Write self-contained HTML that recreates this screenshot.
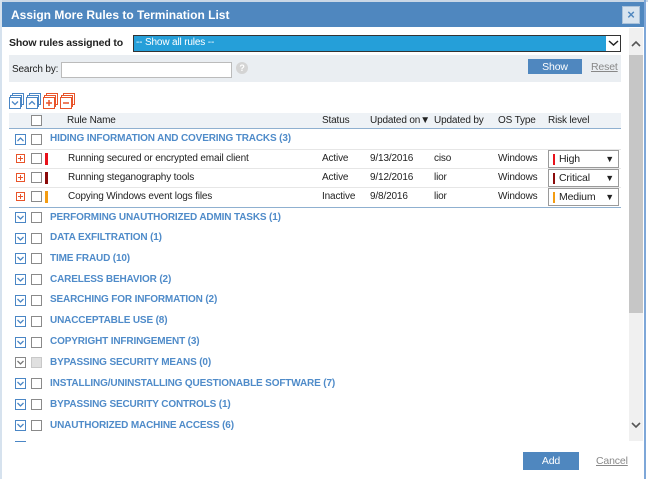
<!DOCTYPE html>
<html><head><meta charset="utf-8">
<style>
*{margin:0;padding:0;box-sizing:border-box}
body{width:648px;height:479px;overflow:hidden;background:#fff;font-family:"Liberation Sans",Arial,sans-serif;font-size:10px;line-height:14px;letter-spacing:-0.15px;color:#222;position:relative}
.a{position:absolute;white-space:nowrap}
.cb{position:absolute;width:11px;height:11px;border:1px solid #8a8a8a;background:#fff}
.ex{position:absolute;width:11px;height:11px;border:1px solid #4a86c5;background:#fff}
.ex svg{position:absolute;left:0px;top:0px}
.grp{position:absolute;left:50px;font-weight:bold;color:#4f8bc9;font-size:10px;letter-spacing:-0.15px;white-space:nowrap}
.pl{position:absolute;left:16px;width:9px;height:9px;border:1px solid #e8542a;background:#fff}
.pl:before{content:"";position:absolute;left:1px;top:3px;width:5px;height:1px;background:#e8542a}
.pl:after{content:"";position:absolute;left:3px;top:1px;width:1px;height:5px;background:#e8542a}
.bar{position:absolute;left:45px;width:3px;height:12px}
.sel{position:absolute;left:548px;width:71px;height:18px;border:1px solid #9a9a9a;background:#fff}
.sel i{position:absolute;left:4px;top:3px;width:2px;height:11px}
.sel span{position:absolute;left:10px;top:1px;font-size:10.5px}
.sel b{position:absolute;right:4px;top:1px;font-size:9px}
.sep{position:absolute;left:9px;width:612px;height:1px;background:#e6e6e6}
.btn{position:absolute;background:#4f87bf;color:#fff;display:flex;align-items:center;justify-content:center;font-size:10.5px}
</style></head><body>
<!-- frame -->
<div class="a" style="left:0;top:0;width:648px;height:2px;background:#c9d7e6"></div>
<div class="a" style="left:0;top:0;width:2px;height:479px;background:#d6e2ee"></div>
<div class="a" style="left:644px;top:0;width:2px;height:479px;background:#7ea7d8"></div>
<div class="a" style="left:2px;top:2px;width:642px;height:25px;background:#4f87bf"></div>
<div class="a" style="left:11px;top:7px;color:#fff;font-weight:bold;font-size:12px;line-height:16px;letter-spacing:0">Assign More Rules to Termination List</div>
<div class="a" style="left:622px;top:6px;width:18px;height:18px;background:#d8e4ef;border:1px solid #aac2da;color:#4f87bf;font-weight:bold;font-size:13px;text-align:center;line-height:15px;letter-spacing:0">×</div>

<!-- show rules -->
<div class="a" style="left:9px;top:36px;font-weight:bold;font-size:10.5px">Show rules assigned to</div>
<div class="a" style="left:133px;top:35px;width:488px;height:17px;background:#259fd9;border:1px solid #333"></div>
<div class="a" style="left:606px;top:36px;width:14px;height:15px;background:#fff"></div>
<svg class="a" style="left:608px;top:39px" width="11" height="8"><polyline points="1,2 5.5,6 10,2" fill="none" stroke="#222" stroke-width="1.5"/></svg>
<div class="a" style="left:136px;top:36px;color:#fff;font-size:10px">-- Show all rules --</div>

<!-- search -->
<div class="a" style="left:9px;top:55px;width:612px;height:27px;background:#eaeef2"></div>
<div class="a" style="left:12px;top:63px">Search by:</div>
<div class="a" style="left:61px;top:62px;width:171px;height:16px;background:#fff;border:1px solid #bbb"></div>
<div class="a" style="left:236px;top:62px;width:12px;height:12px;border-radius:6px;background:#d4d4d4;color:#fff;font-size:9px;font-weight:bold;text-align:center;line-height:12px">?</div>
<div class="btn" style="left:528px;top:59px;width:54px;height:15px">Show</div>
<div class="a" style="left:591px;top:60px;color:#888;text-decoration:underline;font-size:10.5px">Reset</div>

<!-- toolbar icons -->
<svg class="a" style="left:9px;top:93px" width="70" height="16">
 <g fill="#fff" stroke="#4a86c5"><rect x="3.5" y="0.5" width="11" height="11"/><rect x="1.5" y="2.5" width="11" height="11"/><rect x="0.5" y="4.5" width="11" height="11"/></g>
 <polyline points="3,8.5 6,11.5 9,8.5" fill="none" stroke="#4a86c5" stroke-width="1.3"/>
 <g fill="#fff" stroke="#4a86c5"><rect x="20.5" y="0.5" width="11" height="11"/><rect x="18.5" y="2.5" width="11" height="11"/><rect x="17.5" y="4.5" width="11" height="11"/></g>
 <polyline points="20,11.5 23,8.5 26,11.5" fill="none" stroke="#4a86c5" stroke-width="1.3"/>
 <g fill="#fff" stroke="#e8542a"><rect x="37.5" y="0.5" width="11" height="11"/><rect x="35.5" y="2.5" width="11" height="11"/><rect x="34.5" y="4.5" width="11" height="11"/></g>
 <path d="M37 10h6M40 7v6" stroke="#e8542a" stroke-width="1.5"/>
 <g fill="#fff" stroke="#e8542a"><rect x="54.5" y="0.5" width="11" height="11"/><rect x="52.5" y="2.5" width="11" height="11"/><rect x="51.5" y="4.5" width="11" height="11"/></g>
 <path d="M54 10h6" stroke="#e8542a" stroke-width="1.5"/>
</svg>

<!-- header -->
<div class="a" style="left:9px;top:113px;width:612px;height:16px;background:#eef2f6;border-bottom:1px solid #8fb0d0"></div>
<div class="cb" style="left:31px;top:115px"></div>
<div class="a" style="left:67px;top:114px">Rule Name</div>
<div class="a" style="left:322px;top:114px">Status</div>
<div class="a" style="left:370px;top:114px">Updated on▼</div>
<div class="a" style="left:434px;top:114px">Updated by</div>
<div class="a" style="left:498px;top:114px">OS Type</div>
<div class="a" style="left:548px;top:114px">Risk level</div>

<!-- group 1 expanded -->
<div class="ex" style="left:15px;top:134px"><svg width="9" height="9"><polyline points="1.5,6 4.5,3 7.5,6" fill="none" stroke="#4a86c5" stroke-width="1.3"/></svg></div>
<div class="cb" style="left:31px;top:134px"></div>
<div class="grp" style="top:132px">HIDING INFORMATION AND COVERING TRACKS (3)</div>
<div class="sep" style="top:149px"></div>

<div class="pl" style="top:154px"></div><div class="cb" style="left:31px;top:153px"></div><div class="bar" style="top:153px;background:#e8121b"></div>
<div class="a" style="left:68px;top:152px">Running secured or encrypted email client</div>
<div class="a" style="left:322px;top:152px">Active</div><div class="a" style="left:370px;top:152px">9/13/2016</div><div class="a" style="left:434px;top:152px">ciso</div><div class="a" style="left:498px;top:152px">Windows</div>
<div class="sel" style="top:150px"><i style="background:#e8121b"></i><span>High</span><b>▼</b></div>
<div class="sep" style="top:168px"></div>

<div class="pl" style="top:173px"></div><div class="cb" style="left:31px;top:172px"></div><div class="bar" style="top:172px;background:#8b0a0a"></div>
<div class="a" style="left:68px;top:171px">Running steganography tools</div>
<div class="a" style="left:322px;top:171px">Active</div><div class="a" style="left:370px;top:171px">9/12/2016</div><div class="a" style="left:434px;top:171px">lior</div><div class="a" style="left:498px;top:171px">Windows</div>
<div class="sel" style="top:169px"><i style="background:#8b0a0a"></i><span>Critical</span><b>▼</b></div>
<div class="sep" style="top:187px"></div>

<div class="pl" style="top:192px"></div><div class="cb" style="left:31px;top:191px"></div><div class="bar" style="top:191px;background:#f39c12"></div>
<div class="a" style="left:68px;top:190px">Copying Windows event logs files</div>
<div class="a" style="left:322px;top:190px">Inactive</div><div class="a" style="left:370px;top:190px">9/8/2016</div><div class="a" style="left:434px;top:190px">lior</div><div class="a" style="left:498px;top:190px">Windows</div>
<div class="sel" style="top:188px"><i style="background:#f39c12"></i><span>Medium</span><b>▼</b></div>
<div class="a" style="left:9px;top:207px;width:612px;height:1px;background:#8fb0d0"></div>

<!-- collapsed groups -->
<div class="ex" style="left:15px;top:212px"><svg width="9" height="9"><polyline points="1.5,3 4.5,6 7.5,3" fill="none" stroke="#4a86c5" stroke-width="1.3"/></svg></div><div class="cb" style="left:31px;top:212px"></div><div class="grp" style="top:211px">PERFORMING UNAUTHORIZED ADMIN TASKS (1)</div>
<div class="ex" style="left:15px;top:233px"><svg width="9" height="9"><polyline points="1.5,3 4.5,6 7.5,3" fill="none" stroke="#4a86c5" stroke-width="1.3"/></svg></div><div class="cb" style="left:31px;top:233px"></div><div class="grp" style="top:231px">DATA EXFILTRATION (1)</div>
<div class="ex" style="left:15px;top:253px"><svg width="9" height="9"><polyline points="1.5,3 4.5,6 7.5,3" fill="none" stroke="#4a86c5" stroke-width="1.3"/></svg></div><div class="cb" style="left:31px;top:253px"></div><div class="grp" style="top:252px">TIME FRAUD (10)</div>
<div class="ex" style="left:15px;top:274px"><svg width="9" height="9"><polyline points="1.5,3 4.5,6 7.5,3" fill="none" stroke="#4a86c5" stroke-width="1.3"/></svg></div><div class="cb" style="left:31px;top:274px"></div><div class="grp" style="top:273px">CARELESS BEHAVIOR (2)</div>
<div class="ex" style="left:15px;top:295px"><svg width="9" height="9"><polyline points="1.5,3 4.5,6 7.5,3" fill="none" stroke="#4a86c5" stroke-width="1.3"/></svg></div><div class="cb" style="left:31px;top:295px"></div><div class="grp" style="top:293px">SEARCHING FOR INFORMATION (2)</div>
<div class="ex" style="left:15px;top:316px"><svg width="9" height="9"><polyline points="1.5,3 4.5,6 7.5,3" fill="none" stroke="#4a86c5" stroke-width="1.3"/></svg></div><div class="cb" style="left:31px;top:316px"></div><div class="grp" style="top:314px">UNACCEPTABLE USE (8)</div>
<div class="ex" style="left:15px;top:337px"><svg width="9" height="9"><polyline points="1.5,3 4.5,6 7.5,3" fill="none" stroke="#4a86c5" stroke-width="1.3"/></svg></div><div class="cb" style="left:31px;top:337px"></div><div class="grp" style="top:335px">COPYRIGHT INFRINGEMENT (3)</div>
<div class="ex" style="left:15px;top:357px;border-color:#888"><svg width="9" height="9"><polyline points="1.5,3 4.5,6 7.5,3" fill="none" stroke="#777" stroke-width="1.3"/></svg></div><div class="cb" style="left:31px;top:357px;background:#e0e0e0;border-color:#c8c8c8"></div><div class="grp" style="top:356px">BYPASSING SECURITY MEANS (0)</div>
<div class="ex" style="left:15px;top:378px"><svg width="9" height="9"><polyline points="1.5,3 4.5,6 7.5,3" fill="none" stroke="#4a86c5" stroke-width="1.3"/></svg></div><div class="cb" style="left:31px;top:378px"></div><div class="grp" style="top:377px">INSTALLING/UNINSTALLING QUESTIONABLE SOFTWARE (7)</div>
<div class="ex" style="left:15px;top:399px"><svg width="9" height="9"><polyline points="1.5,3 4.5,6 7.5,3" fill="none" stroke="#4a86c5" stroke-width="1.3"/></svg></div><div class="cb" style="left:31px;top:399px"></div><div class="grp" style="top:398px">BYPASSING SECURITY CONTROLS (1)</div>
<div class="ex" style="left:15px;top:420px"><svg width="9" height="9"><polyline points="1.5,3 4.5,6 7.5,3" fill="none" stroke="#4a86c5" stroke-width="1.3"/></svg></div><div class="cb" style="left:31px;top:420px"></div><div class="grp" style="top:419px">UNAUTHORIZED MACHINE ACCESS (6)</div>
<div class="a" style="left:15px;top:441px;width:11px;height:1px;background:#4a86c5"></div>

<!-- scrollbar -->
<div class="a" style="left:629px;top:28px;width:14px;height:413px;background:#f0f0f0"></div>
<div class="a" style="left:629px;top:55px;width:14px;height:258px;background:#c6c6c6"></div>
<svg class="a" style="left:630px;top:40px" width="12" height="8"><polyline points="2,6 6,2 10,6" fill="none" stroke="#555" stroke-width="1.6"/></svg>
<svg class="a" style="left:630px;top:421px" width="12" height="8"><polyline points="2,2 6,6 10,2" fill="none" stroke="#555" stroke-width="1.6"/></svg>

<!-- footer -->
<div class="btn" style="left:523px;top:452px;width:56px;height:18px">Add</div>
<div class="a" style="left:596px;top:454px;color:#888;text-decoration:underline;font-size:10.5px">Cancel</div>
</body></html>
